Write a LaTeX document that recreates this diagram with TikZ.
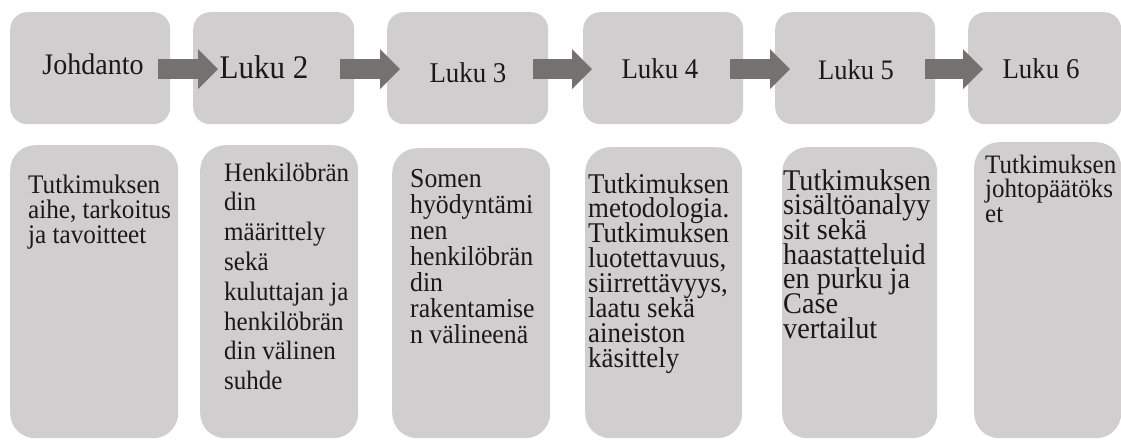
\documentclass[tikz,border=0pt]{standalone}
\usepackage{fontspec}
\setmainfont{Liberation Serif}
\newfontfamily\nfont[FakeStretch=0.94]{Liberation Serif}
\usetikzlibrary{arrows.meta}
\definecolor{boxgray}{HTML}{D0CECE}
\definecolor{arrowgray}{HTML}{767171}
\setlength{\lineskiplimit}{-100pt}
\tikzset{
  topbox/.style={fill=boxgray, rounded corners=17pt, inner sep=0pt, anchor=north west},
  botbox/.style={fill=boxgray, rounded corners=25pt, inner sep=0pt, anchor=north west},
  flowarrow/.style={draw=arrowgray, line width=20pt, -{Triangle[length=20pt,width=40pt,line width=0pt]}},
  toptext/.style={anchor=base, inner sep=0pt, text=black!90, font=\nfont\fontsize{#1}{#1}\selectfont},
  bottext/.style 2 args={anchor=base west, inner sep=0pt, align=left, text=black!90, font=\nfont\fontsize{#1}{#2}\selectfont},
}
\begin{document}
\begin{tikzpicture}[x=1pt, y=-1pt]
\useasboundingbox (0,0) rectangle (1121,439);
% top boxes
\node[topbox, minimum width=160pt, minimum height=112pt] (t1) at (10,12) {};
\node[topbox, minimum width=161pt, minimum height=112pt] (t2) at (193,12) {};
\node[topbox, minimum width=161pt, minimum height=112pt] (t3) at (387,12) {};
\node[topbox, minimum width=160pt, minimum height=112pt] (t4) at (583,12) {};
\node[topbox, minimum width=160pt, minimum height=112pt] (t5) at (775,12) {};
\node[topbox, minimum width=153pt, minimum height=112pt] (t6) at (968,12) {};
% bottom boxes
\node[botbox, minimum width=168pt, minimum height=293pt] (b1) at (10,145) {};
\node[botbox, minimum width=158pt, minimum height=293pt] (b2) at (200,145) {};
\node[botbox, minimum width=158pt, minimum height=290pt] (b3) at (392,148) {};
\node[botbox, minimum width=157pt, minimum height=291pt] (b4) at (585,147) {};
\node[botbox, minimum width=155pt, minimum height=291pt] (b5) at (782,147) {};
\node[botbox, minimum width=147pt, minimum height=296pt] (b6) at (974,142) {};
% arrows
\draw[flowarrow] ([xshift=-12pt,yshift=-1pt]t1.east) -- ([xshift=25pt,yshift=-1pt]t2.west);
\draw[flowarrow] ([xshift=-14pt,yshift=-1pt]t2.east) -- ([xshift=13pt,yshift=-1pt]t3.west);
\draw[flowarrow] ([xshift=-15pt,yshift=-1pt]t3.east) -- ([xshift=9pt,yshift=-1pt]t4.west);
\draw[flowarrow] ([xshift=-13pt,yshift=-1pt]t4.east) -- ([xshift=15pt,yshift=-1pt]t5.west);
\draw[flowarrow] ([xshift=-10pt,yshift=-1pt]t5.east) -- ([xshift=15pt,yshift=-1pt]t6.west);
% top texts
\node[toptext=29.8] (l1) at (93,74) {Johdanto};
\node[toptext=33] (l2) at (264,78) {Luku 2};
\node[toptext=28.6] (l3) at (468,82) {Luku 3};
\node[toptext=28.6] (l4) at (660,78) {Luku 4};
\node[toptext=28.2] (l5) at (856,79) {Luku 5};
\node[toptext=28.6] (l6) at (1041,78) {Luku 6};
% bottom texts (anchored at the baseline of the last line)
\node[bottext={26.8}{25}] (d1) at (28,243) {Tutkimuksen\\aihe, tarkoitus\\ja tavoitteet};
\node[bottext={26.6}{29.8}] (d2) at (224,389.6) {Henkilöbrän\\din\\määrittely\\sekä\\kuluttajan ja\\henkilöbrän\\din välinen\\suhde};
\node[bottext={27.4}{26}] (d3) at (410,343) {Somen\\hyödyntämi\\nen\\henkilöbrän\\din\\rakentamise\\n välineenä};
\node[bottext={28.6}{24.9}] (d4) at (588,367.3) {Tutkimuksen\\metodologia.\\Tutkimuksen\\luotettavuus,\\siirrettävyys,\\laatu sekä\\aineiston\\käsittely};
\node[bottext={30}{24.7}] (d5) at (783,338.2) {Tutkimuksen\\sisältöanalyy\\sit sekä\\haastatteluid\\en purku ja\\Case\\vertailut};
\node[bottext={26.6}{24.5}] (d6) at (985,222) {Tutkimuksen\\johtopäätöks\\et};
\end{tikzpicture}
\end{document}
